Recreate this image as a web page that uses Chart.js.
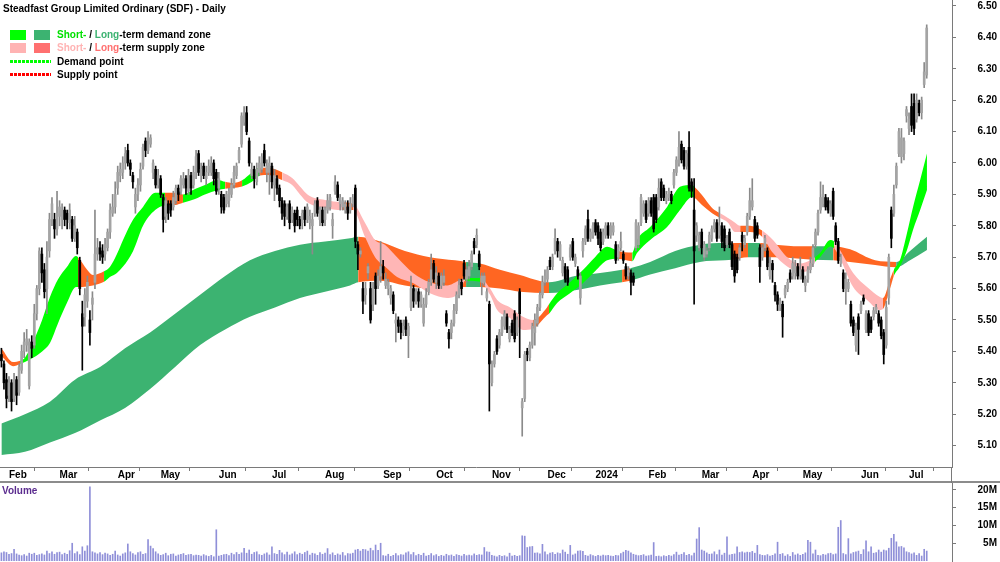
<!DOCTYPE html>
<html><head><meta charset="utf-8">
<script src="https://cdn.jsdelivr.net/npm/chart.js@4.4.0/dist/chart.umd.min.js"></script>
<style>
html,body{margin:0;padding:0;background:#fff;width:1000px;height:562px;overflow:hidden;font-family:"Liberation Sans",Arial,sans-serif}
canvas{position:absolute;left:0}
#cp{top:0}
#cv{top:483px}
.t{position:absolute;font-weight:bold;font-size:10px;line-height:11px;color:#000;white-space:nowrap}
.sw{position:absolute;width:16px;height:10px}
.dl{position:absolute;left:10px;width:41px;height:3px}
</style></head>
<body>
<canvas id="cp" width="1000" height="483"></canvas>
<canvas id="cv" width="1000" height="79"></canvas>
<div class="t" style="left:3px;top:3px">Steadfast Group Limited Ordinary (SDF) - Daily</div>
<div class="sw" style="left:10px;top:30px;background:#00ff00"></div>
<div class="sw" style="left:34px;top:30px;background:#3cb371"></div>
<div class="t" style="left:57px;top:29px"><span style="color:#00e000">Short-</span> / <span style="color:#3cb371">Long</span>-term demand zone</div>
<div class="sw" style="left:10px;top:43px;background:#ffb3b3"></div>
<div class="sw" style="left:34px;top:43px;background:#ff7070"></div>
<div class="t" style="left:57px;top:42px"><span style="color:#ffb3b3">Short-</span> / <span style="color:#ff7070">Long</span>-term supply zone</div>
<div class="dl" style="top:60px;background:repeating-linear-gradient(90deg,#00ff00 0 3px,transparent 3px 4px)"></div>
<div class="t" style="left:57px;top:56px">Demand point</div>
<div class="dl" style="top:73px;background:repeating-linear-gradient(90deg,#ff0000 0 3px,transparent 3px 4px)"></div>
<div class="t" style="left:57px;top:69px">Supply point</div>
<div class="t" style="left:2px;top:485px;color:#5b2c8f">Volume</div>
<script>
// ---- data: daily bars, index 0 = 27 Jan 2023 ----
const opens = [
5.39,5.36,5.31,5.26,5.30,5.25,5.31,5.27,5.34,5.40,
5.42,5.29,5.43,5.42,5.52,5.60,5.71,5.66,5.60,5.72,
5.82,5.82,5.79,5.83,5.82,5.85,5.84,5.81,5.82,5.76,
5.78,5.69,5.52,5.51,5.56,5.50,5.55,5.62,5.71,5.73,
5.72,5.71,5.73,5.78,5.84,5.86,5.92,5.96,5.97,6.00,
6.04,6.00,5.96,5.86,5.90,5.93,5.99,6.07,6.04,6.06,
5.97,5.98,5.93,5.95,5.89,5.83,5.87,5.87,5.86,5.88,
5.92,5.91,5.93,5.95,5.91,5.96,5.93,5.97,6.03,5.96,
5.99,5.95,5.97,5.97,6.00,5.97,5.92,5.90,5.89,5.87,
5.88,5.90,5.93,5.96,6.01,6.06,6.13,6.16,6.07,5.96,
5.98,5.94,5.97,5.98,6.04,5.97,5.97,5.99,5.93,5.95,
5.92,5.88,5.87,5.83,5.87,5.82,5.84,5.85,5.82,5.81,
5.85,5.82,5.81,5.80,5.84,5.88,5.82,5.85,5.82,5.85,
5.86,5.80,5.91,5.93,5.87,5.86,5.85,5.86,5.85,5.87,
5.92,5.74,5.71,5.60,5.58,5.65,5.60,5.55,5.64,5.61,
5.64,5.67,5.61,5.60,5.57,5.58,5.49,5.50,5.49,5.46,
5.50,5.45,5.54,5.60,5.56,5.59,5.55,5.49,5.55,5.59,
5.62,5.68,5.62,5.64,5.61,5.62,5.52,5.46,5.46,5.49,
5.53,5.58,5.62,5.68,5.63,5.64,5.67,5.75,5.74,5.71,
5.62,5.62,5.57,5.55,5.30,5.36,5.44,5.42,5.46,5.48,
5.51,5.44,5.49,5.52,5.46,5.59,5.22,5.25,5.40,5.38,
5.42,5.46,5.49,5.54,5.58,5.62,5.63,5.69,5.67,5.72,
5.75,5.70,5.65,5.67,5.66,5.70,5.75,5.68,5.66,5.57,
5.72,5.75,5.82,5.76,5.77,5.81,5.80,5.78,5.75,5.77,
5.80,5.77,5.78,5.74,5.70,5.73,5.71,5.67,5.64,5.65,
5.64,5.73,5.74,5.81,5.84,5.87,5.84,5.88,5.89,5.89,
5.86,5.94,5.92,5.88,5.89,5.90,5.93,5.97,6.00,6.06,
6.04,5.99,6.05,5.94,5.85,5.77,5.73,5.78,5.70,5.71,
5.73,5.76,5.79,5.81,5.77,5.80,5.79,5.74,5.78,5.74,
5.71,5.70,5.70,5.77,5.74,5.78,5.83,5.86,5.82,5.80,
5.73,5.70,5.73,5.72,5.64,5.68,5.61,5.58,5.54,5.55,
5.58,5.60,5.65,5.64,5.65,5.67,5.64,5.66,5.61,5.63,
5.66,5.68,5.74,5.78,5.85,5.87,5.89,5.88,5.84,5.91,
5.80,5.75,5.68,5.65,5.59,5.60,5.55,5.50,5.42,5.51,
5.53,5.57,5.47,5.52,5.50,5.51,5.53,5.52,5.50,5.46,
5.42,5.57,5.85,5.84,5.93,6.03,6.02,6.03,6.15,6.11,
6.18,6.19,6.14,6.19,6.16,6.25,6.28];
const highs = [
5.41,5.37,5.33,5.32,5.31,5.33,5.32,5.36,5.42,5.46,
5.47,5.44,5.45,5.55,5.61,5.73,5.73,5.68,5.75,5.84,
5.89,5.84,5.91,5.88,5.87,5.86,5.85,5.87,5.83,5.83,
5.79,5.70,5.56,5.60,5.64,5.53,5.59,5.85,5.76,5.75,
5.74,5.76,5.79,5.87,5.90,5.94,5.99,6.00,6.02,6.05,
6.06,6.01,5.97,5.92,5.95,6.00,6.06,6.08,6.10,6.09,
6.01,5.99,5.98,5.96,5.90,5.89,5.88,5.88,5.91,5.93,
5.93,5.96,5.97,5.96,5.98,5.97,5.99,6.04,6.04,6.00,
6.00,5.99,6.01,6.02,6.01,5.98,5.97,5.91,5.90,5.91,
5.92,5.95,5.99,6.00,6.05,6.16,6.18,6.18,6.08,6.00,
5.99,6.00,6.02,6.03,6.06,6.01,6.02,6.00,5.98,5.96,
5.93,5.89,5.88,5.87,5.88,5.86,5.85,5.86,5.83,5.85,
5.86,5.87,5.85,5.84,5.88,5.89,5.86,5.86,5.86,5.90,
5.90,5.84,5.96,5.94,5.90,5.89,5.88,5.88,5.89,5.90,
5.93,5.75,5.73,5.62,5.62,5.68,5.62,5.62,5.65,5.66,
5.75,5.69,5.65,5.63,5.61,5.59,5.52,5.51,5.50,5.50,
5.51,5.49,5.64,5.61,5.60,5.60,5.59,5.57,5.60,5.63,
5.71,5.69,5.67,5.65,5.65,5.66,5.53,5.47,5.50,5.55,
5.59,5.63,5.63,5.69,5.67,5.69,5.72,5.76,5.79,5.72,
5.65,5.65,5.60,5.56,5.37,5.40,5.45,5.47,5.51,5.53,
5.52,5.48,5.50,5.53,5.51,5.60,5.25,5.40,5.41,5.43,
5.49,5.52,5.55,5.59,5.64,5.66,5.67,5.70,5.71,5.79,
5.76,5.75,5.70,5.68,5.67,5.74,5.76,5.71,5.67,5.65,
5.76,5.80,5.85,5.79,5.81,5.82,5.81,5.79,5.79,5.81,
5.81,5.81,5.81,5.75,5.74,5.78,5.72,5.68,5.67,5.66,
5.65,5.82,5.81,5.90,5.88,5.88,5.89,5.89,5.90,5.90,
5.95,5.95,5.93,5.91,5.92,5.91,5.98,6.02,6.10,6.07,
6.05,6.04,6.10,5.95,5.95,5.81,5.78,5.79,5.75,5.73,
5.78,5.80,5.82,5.82,5.86,5.81,5.80,5.77,5.79,5.75,
5.72,5.71,5.74,5.78,5.77,5.84,5.92,5.95,5.83,5.81,
5.74,5.74,5.77,5.73,5.70,5.69,5.62,5.59,5.57,5.56,
5.61,5.63,5.66,5.70,5.69,5.68,5.70,5.67,5.64,5.67,
5.70,5.74,5.79,5.85,5.94,5.93,5.90,5.89,5.88,5.92,
5.81,5.76,5.71,5.66,5.65,5.63,5.56,5.51,5.49,5.52,
5.56,5.58,5.53,5.53,5.51,5.54,5.55,5.53,5.51,5.47,
5.56,5.71,5.86,5.93,6.00,6.11,6.11,6.08,6.18,6.16,
6.22,6.22,6.22,6.20,6.21,6.32,6.44];
const lows = [
5.35,5.28,5.22,5.24,5.21,5.24,5.23,5.26,5.33,5.38,
5.40,5.28,5.38,5.41,5.50,5.58,5.62,5.57,5.52,5.70,
5.80,5.76,5.77,5.80,5.79,5.80,5.79,5.79,5.75,5.75,
5.71,5.58,5.34,5.48,5.54,5.42,5.50,5.60,5.69,5.69,
5.68,5.69,5.72,5.76,5.83,5.84,5.90,5.94,5.95,5.98,
5.99,5.96,5.92,5.84,5.88,5.91,5.98,6.02,6.03,6.05,
5.95,5.92,5.92,5.89,5.78,5.81,5.82,5.83,5.85,5.87,
5.88,5.90,5.92,5.90,5.90,5.90,5.92,5.95,5.96,5.94,
5.95,5.93,5.96,5.96,5.93,5.90,5.90,5.84,5.84,5.86,
5.86,5.89,5.92,5.95,6.00,6.05,6.12,6.09,5.99,5.95,
5.92,5.93,5.96,5.97,5.99,5.94,5.90,5.92,5.88,5.90,
5.86,5.82,5.80,5.82,5.79,5.81,5.78,5.80,5.79,5.79,
5.80,5.81,5.79,5.71,5.83,5.83,5.80,5.80,5.80,5.84,
5.85,5.76,5.90,5.88,5.85,5.85,5.84,5.82,5.84,5.86,
5.73,5.66,5.70,5.52,5.55,5.63,5.49,5.53,5.55,5.60,
5.62,5.63,5.60,5.58,5.55,5.52,5.43,5.46,5.44,5.45,
5.45,5.38,5.53,5.54,5.55,5.54,5.54,5.48,5.54,5.58,
5.61,5.62,5.60,5.60,5.60,5.61,5.48,5.41,5.44,5.48,
5.52,5.57,5.58,5.63,5.62,5.63,5.66,5.71,5.73,5.66,
5.58,5.61,5.56,5.21,5.29,5.35,5.39,5.41,5.45,5.47,
5.46,5.43,5.45,5.43,5.45,5.38,5.13,5.24,5.37,5.37,
5.41,5.42,5.48,5.53,5.57,5.61,5.62,5.66,5.66,5.71,
5.70,5.69,5.64,5.62,5.61,5.69,5.69,5.67,5.63,5.55,
5.70,5.74,5.75,5.75,5.76,5.77,5.74,5.72,5.74,5.76,
5.76,5.76,5.77,5.68,5.69,5.72,5.68,5.63,5.63,5.58,
5.61,5.72,5.73,5.80,5.83,5.81,5.83,5.83,5.78,5.81,
5.85,5.88,5.88,5.87,5.88,5.87,5.92,5.96,5.99,6.00,
5.98,5.98,5.91,5.89,5.55,5.75,5.72,5.71,5.69,5.70,
5.72,5.75,5.78,5.75,5.76,5.73,5.72,5.73,5.73,5.66,
5.62,5.65,5.69,5.72,5.73,5.77,5.82,5.85,5.75,5.76,
5.62,5.69,5.72,5.66,5.63,5.62,5.56,5.53,5.53,5.445,
5.57,5.59,5.62,5.63,5.63,5.63,5.63,5.62,5.59,5.62,
5.65,5.67,5.73,5.77,5.84,5.86,5.85,5.84,5.83,5.82,
5.74,5.68,5.67,5.59,5.55,5.59,5.48,5.45,5.40,5.39,
5.52,5.55,5.46,5.45,5.46,5.50,5.52,5.48,5.44,5.36,
5.41,5.55,5.73,5.83,5.92,6.02,6.00,6.01,6.13,6.09,
6.10,6.09,6.13,6.15,6.14,6.24,6.27];
const closes = [
5.37,5.30,5.25,5.30,5.24,5.31,5.26,5.35,5.40,5.43,
5.44,5.43,5.41,5.52,5.60,5.72,5.65,5.59,5.70,5.82,
5.87,5.79,5.84,5.86,5.85,5.82,5.82,5.85,5.76,5.80,
5.73,5.60,5.48,5.58,5.62,5.46,5.57,5.71,5.73,5.71,
5.70,5.74,5.78,5.85,5.86,5.90,5.97,5.98,6.00,6.03,
6.00,5.98,5.94,5.90,5.93,5.98,6.05,6.04,6.08,6.08,
6.00,5.93,5.96,5.90,5.82,5.88,5.84,5.85,5.89,5.92,
5.90,5.95,5.95,5.92,5.96,5.92,5.97,6.02,5.97,5.98,
5.96,5.97,5.99,6.00,5.95,5.91,5.95,5.86,5.85,5.90,
5.91,5.93,5.97,5.99,6.04,6.15,6.16,6.10,6.00,5.98,
5.95,5.98,6.00,6.02,6.00,5.99,6.00,5.94,5.96,5.92,
5.88,5.84,5.83,5.86,5.81,5.85,5.80,5.82,5.80,5.84,
5.82,5.86,5.83,5.82,5.87,5.84,5.85,5.81,5.85,5.88,
5.89,5.82,5.94,5.89,5.89,5.88,5.87,5.84,5.87,5.89,
5.75,5.71,5.72,5.56,5.60,5.67,5.50,5.60,5.60,5.64,
5.67,5.65,5.63,5.62,5.60,5.53,5.50,5.48,5.46,5.48,
5.47,5.48,5.60,5.56,5.59,5.56,5.58,5.55,5.58,5.62,
5.66,5.63,5.65,5.61,5.64,5.64,5.49,5.44,5.49,5.53,
5.58,5.61,5.60,5.64,5.66,5.67,5.71,5.73,5.77,5.67,
5.64,5.64,5.59,5.36,5.36,5.39,5.40,5.46,5.50,5.52,
5.47,5.47,5.46,5.44,5.50,5.52,5.24,5.39,5.39,5.42,
5.48,5.50,5.54,5.58,5.62,5.64,5.66,5.67,5.70,5.76,
5.72,5.74,5.69,5.63,5.62,5.73,5.70,5.70,5.64,5.64,
5.75,5.79,5.76,5.78,5.80,5.78,5.76,5.73,5.78,5.80,
5.77,5.80,5.80,5.69,5.73,5.75,5.69,5.64,5.66,5.62,
5.62,5.81,5.80,5.89,5.87,5.82,5.88,5.84,5.79,5.82,
5.92,5.89,5.89,5.90,5.91,5.88,5.97,6.01,6.05,6.01,
5.99,6.03,5.92,5.91,5.72,5.80,5.77,5.73,5.74,5.72,
5.77,5.79,5.81,5.76,5.80,5.75,5.73,5.76,5.74,5.67,
5.64,5.66,5.73,5.75,5.76,5.83,5.88,5.88,5.76,5.77,
5.67,5.73,5.76,5.67,5.68,5.66,5.58,5.55,5.56,5.51,
5.60,5.62,5.63,5.68,5.67,5.64,5.66,5.63,5.63,5.66,
5.68,5.73,5.78,5.84,5.89,5.90,5.86,5.85,5.87,5.83,
5.75,5.69,5.70,5.60,5.63,5.62,5.49,5.46,5.48,5.47,
5.55,5.56,5.52,5.46,5.47,5.53,5.54,5.49,5.45,5.39,
5.54,5.70,5.76,5.90,5.99,6.10,6.08,6.07,6.17,6.14,
6.12,6.11,6.20,6.16,6.20,6.29,6.43];
// volume in millions of shares
const volumes = [
2.3,2.6,2.4,1.9,2.1,3.3,2.0,1.7,1.5,1.8,
1.4,2.2,1.9,2.2,1.6,1.8,2.0,1.7,2.8,2.1,
2.6,1.9,2.4,2.5,1.8,2.2,1.9,2.9,5.0,2.1,
2.6,1.8,4.0,2.8,4.3,20.9,2.6,2.3,2.0,2.4,
1.8,2.2,2.0,1.6,1.9,2.8,1.7,1.4,2.0,2.3,
4.8,2.6,2.1,1.7,2.4,2.6,1.9,2.1,6.0,4.2,
3.5,2.6,2.0,1.6,1.8,2.2,1.5,1.9,2.0,1.4,
1.7,1.9,2.1,1.6,1.8,1.9,1.5,1.7,1.6,1.4,
1.8,1.5,1.3,1.6,1.2,8.8,1.4,1.6,1.8,1.9,
1.5,2.2,1.8,2.4,1.9,2.3,3.6,2.2,3.1,1.9,
2.4,2.6,1.8,1.6,2.0,2.3,1.7,4.0,2.1,1.9,
3.0,2.3,1.8,2.5,1.7,2.0,2.6,1.8,2.2,1.9,
2.4,2.8,1.7,2.2,2.0,1.6,2.4,1.9,2.2,3.5,
1.8,2.3,1.6,2.0,1.7,2.4,1.5,2.1,2.0,2.2,
3.1,3.3,2.8,3.3,3.2,2.8,3.6,2.9,4.5,3.0,
5.0,1.5,1.4,1.9,1.3,1.6,2.1,1.5,1.8,1.7,
2.3,2.6,1.8,2.4,1.5,1.9,1.6,2.2,1.4,1.6,
2.1,1.5,1.8,1.3,1.6,1.4,1.9,1.5,1.7,1.3,
1.8,1.6,1.4,1.9,1.5,1.7,1.5,2.0,1.6,1.8,
1.7,3.8,2.6,2.5,1.6,1.4,1.2,1.6,1.3,1.5,
1.2,2.2,1.4,1.6,1.3,1.5,7.1,7.0,3.8,4.0,
4.1,2.2,2.3,2.0,4.7,2.6,1.8,2.2,2.4,1.9,
2.3,2.1,3.1,2.5,1.9,4.4,1.7,2.0,2.8,2.9,
2.7,1.6,1.4,1.8,1.5,1.3,1.6,1.4,1.7,1.5,
1.6,1.4,1.3,1.6,1.5,2.1,2.5,3.0,2.8,2.3,
1.9,1.7,1.5,1.6,1.8,1.4,1.5,1.7,5.2,1.3,
1.4,1.2,1.5,1.3,1.6,1.4,1.8,2.5,1.7,1.9,
2.4,1.6,1.9,1.5,2.2,6.2,9.4,3.1,2.8,2.3,
1.9,2.0,2.6,1.8,3.1,1.7,2.2,6.8,1.7,1.9,
2.0,4.0,2.4,2.6,2.3,2.5,2.4,2.7,2.2,4.4,
1.8,1.6,1.5,1.8,1.4,1.6,2.0,5.3,1.9,2.1,
1.4,1.8,1.3,2.4,1.7,2.0,1.6,1.9,2.3,5.8,
5.3,2.0,3.1,1.6,1.5,1.9,1.7,2.1,2.2,1.8,
2.0,9.5,11.4,2.1,1.8,6.3,2.0,2.4,2.6,2.8,
1.9,3.2,5.7,2.6,4.0,2.2,2.4,3.1,2.5,3.1,
2.9,3.6,6.4,7.5,5.4,4.0,4.1,3.7,2.6,2.4,
2.0,2.3,1.6,2.1,1.4,3.3,2.8];

// long-term zone (bar index, upper edge, lower edge, 1 = demand, -1 = supply)
const longIdx = [0,9.3,19.2,29.1,39.0,48.9,58.8,68.7,78.6,88.5,98.3,108.2,118.1,128.0,137.9,141.1,149.8,159.6,169.5,179.4,183.8,189.3,197.2,205.1,216.6,226.9,236.8,245.5,248.7,256.6,266.5,276.3,286.2,289.0,295.3,300.1,306.0,315.9,321.0,329.0,335.7,345.6,353.9,359.4,366.1];
const longTop = [5.17,5.20,5.24,5.31,5.35,5.41,5.46,5.52,5.58,5.64,5.69,5.72,5.74,5.75,5.76,5.765,5.75,5.72,5.70,5.69,5.685,5.68,5.66,5.643,5.62,5.64,5.65,5.66,5.665,5.685,5.72,5.74,5.745,5.745,5.745,5.745,5.74,5.735,5.735,5.735,5.725,5.69,5.685,5.72,5.765];
const longBot = [5.07,5.08,5.11,5.14,5.18,5.22,5.28,5.35,5.42,5.47,5.51,5.54,5.57,5.59,5.61,5.62,5.625,5.61,5.60,5.605,5.605,5.605,5.60,5.59,5.586,5.595,5.61,5.62,5.625,5.645,5.665,5.685,5.69,5.692,5.70,5.70,5.70,5.695,5.692,5.69,5.685,5.675,5.668,5.69,5.723];
const longState = [1,1,1,1,1,1,1,1,1,1,1,1,1,1,1,-1,-1,-1,-1,-1,1,-1,-1,-1,1,1,1,-1,1,1,1,1,1,-1,1,-1,-1,-1,1,-1,-1,-1,1,1,1];

// short-term zone (1 = demand, -1 = supply, 0 = turning)
const shortIdx = [0,4.6,7.4,9.3,12.5,16.1,19.2,22.4,25.9,29.5,
30.3,33.9,36.2,40.6,42.9,45.7,48.1,52.1,56.0,60.8,
64.7,68.7,71.8,76.6,80.5,85.7,88.5,91.6,95.2,99.1,
102.3,105.5,111.2,115.0,118.1,121.3,128.0,134.7,139.1,143.8,
147.8,151.7,156.5,162.8,169.5,176.3,181.4,183.4,189.5,193.3,
196.1,201.2,206.3,210.3,215.8,216.6,219.8,224.9,230.1,234.8,
239.6,243.9,249.5,251.4,256.6,263.3,268.4,273.2,274.0,277.1,
281.1,284.3,287.4,290.2,292.2,296.1,300.9,305.2,310.8,315.9,
319.9,321.8,323.8,327.8,329.4,331.7,336.9,342.4,347.5,348.7,
351.5,353.0,355.4,358.2,360.6,363.4,366.1];
const shortTop = [5.41,5.366,5.37,5.38,5.43,5.50,5.573,5.63,5.669,5.704,
5.70,5.66,5.643,5.655,5.669,5.71,5.755,5.82,5.86,5.905,
5.905,5.905,5.90,5.917,5.93,5.946,5.94,5.936,5.945,5.97,
5.985,5.985,5.97,5.952,5.925,5.898,5.882,5.875,5.87,5.81,
5.755,5.74,5.70,5.65,5.62,5.61,5.627,5.634,5.634,5.60,
5.564,5.54,5.51,5.50,5.54,5.55,5.585,5.62,5.66,5.70,
5.733,5.72,5.715,5.755,5.796,5.86,5.924,5.93,5.925,5.898,
5.857,5.84,5.825,5.81,5.80,5.80,5.785,5.755,5.70,5.68,
5.69,5.70,5.713,5.755,5.75,5.723,5.65,5.605,5.573,5.57,
5.63,5.66,5.69,5.777,5.86,5.946,6.03];
const shortBot = [5.385,5.353,5.36,5.366,5.38,5.40,5.427,5.49,5.554,5.605,
5.605,5.607,5.61,5.622,5.637,5.65,5.67,5.72,5.80,5.85,
5.865,5.866,5.873,5.885,5.90,5.914,5.918,5.92,5.925,5.94,
5.96,5.962,5.945,5.93,5.90,5.873,5.857,5.85,5.85,5.765,
5.70,5.67,5.637,5.618,5.585,5.57,5.59,5.625,5.622,5.58,
5.532,5.506,5.468,5.472,5.515,5.52,5.554,5.585,5.618,5.655,
5.69,5.695,5.687,5.713,5.755,5.796,5.85,5.892,5.89,5.866,
5.84,5.825,5.81,5.78,5.78,5.78,5.765,5.713,5.67,5.653,
5.66,5.685,5.70,5.733,5.728,5.697,5.605,5.564,5.532,5.535,
5.60,5.64,5.67,5.723,5.787,5.85,5.914];
const shortState = [0,0,1,1,1,1,1,1,1,1,
0,0,0,1,1,1,1,1,1,1,
0,0,1,1,1,1,0,0,1,1,
0,0,-1,-1,-1,-1,-1,0,-1,-1,
-1,-1,-1,-1,-1,-1,-1,1,-1,-1,
-1,-1,-1,0,0,1,1,1,1,1,
1,0,1,1,1,1,1,1,0,0,
0,-1,-1,-1,0,0,-1,-1,-1,-1,
-1,1,1,1,-1,-1,-1,-1,-1,0,
0,1,1,1,1,1,1];

const monthIdx = [3,23,46,63,86,107,128,151,172,194,216,235,256,277,297,317,340,359];
const monthLabels = ['Feb','Mar','Apr','May','Jun','Jul','Aug','Sep','Oct','Nov','Dec','2024','Feb','Mar','Apr','May','Jun','Jul'];
const priceTicks = [5.1,5.2,5.3,5.4,5.5,5.6,5.7,5.8,5.9,6.0,6.1,6.2,6.3,6.4,6.5];
const volTicks = [5,10,15,20];

// ---- styling ----
const C = {lime:'#00ff00', pink:'#ffb6b6', orange:'#ff6622', sea:'#3cb371',
  up:'#a4a4a4', upWick:'#8a8a8a', down:'#000000', axis:'#7a7a7a', vol:'#8f8fd8'};
const X_MIN = -0.56, X_MAX = 376.0;
Chart.defaults.font = {family:'"Liberation Sans", Arial, sans-serif', size:10, weight:'bold'};
Chart.defaults.color = '#000';

const idx = opens.map((_, i) => i);
const isUp = i => closes[i] >= opens[i];
const pts = (xs, ys) => xs.map((x, k) => ({x, y: ys[k]}));
const shortColor = s => s > 0 ? C.lime : (s < 0 ? C.pink : C.orange);
const longColor = s => s > 0 ? C.sea : C.orange;
const zeroPad = s => { s.paddingTop = 0; s.paddingBottom = 0; s.paddingLeft = 0; s.paddingRight = 0; };
const bandLine = {type:'line', borderColor:'rgba(0,0,0,0)', borderWidth:1, pointRadius:0, cubicInterpolationMode:'monotone'};

const framePlugin = {id:'frame', afterDraw(chart){
  const {ctx, chartArea} = chart;
  ctx.save();
  ctx.fillStyle = '#8c8c8c';
  ctx.fillRect(0, chart.height - 2, chart.width, 2);
  ctx.fillStyle = C.axis;
  ctx.fillRect(Math.round(chartArea.right) - 1, chartArea.bottom, 1, chart.height - chartArea.bottom);
  ctx.restore();
}};

new Chart(document.getElementById('cp'), {
  type: 'bar',
  data: {datasets: [
    Object.assign({}, bandLine, {data: pts(longIdx, longBot), fill:false, order:6}),
    Object.assign({}, bandLine, {data: pts(longIdx, longTop), fill:'-1', backgroundColor:C.sea,
      segment:{backgroundColor: c => longColor(longState[c.p0DataIndex])}, order:5}),
    Object.assign({}, bandLine, {data: pts(shortIdx, shortBot), fill:false, order:4}),
    Object.assign({}, bandLine, {data: pts(shortIdx, shortTop), fill:'-1', backgroundColor:C.lime,
      segment:{backgroundColor: c => shortColor(shortState[c.p0DataIndex])}, order:3}),
    {data: idx.map(i => ({x:i, y:[lows[i], highs[i]]})), barThickness:1, grouped:false, order:2,
      backgroundColor: c => isUp(c.dataIndex) ? C.upWick : C.down},
    {data: idx.map(i => ({x:i, y:[opens[i], closes[i]]})), barThickness:2, minBarLength:1, grouped:false, order:1,
      backgroundColor: c => isUp(c.dataIndex) ? C.up : C.down}
  ]},
  options: {
    responsive:false, animation:false, events:[],
    layout:{padding:{left:0, top:0, bottom:0, right:3}},
    plugins:{legend:{display:false}, tooltip:{enabled:false}},
    scales: {
      x: {type:'linear', min:X_MIN, max:X_MAX, offset:false,
        afterBuildTicks: s => { s.ticks = monthIdx.map(v => ({value:v})); },
        afterFit: s => { s.height = 16; zeroPad(s); },
        ticks:{autoSkip:false, maxRotation:0, minRotation:0, align:'start', padding:-2,
          callback:(v, i) => monthLabels[i]},
        grid:{drawOnChartArea:false, drawTicks:true, tickLength:4, color:C.axis},
        border:{display:true, color:C.axis}},
      y: {type:'linear', position:'right', min:5.0318, max:6.5191,
        afterBuildTicks: s => { s.ticks = priceTicks.map(v => ({value:v})); },
        afterFit: s => { s.width = 45; zeroPad(s); },
        ticks:{crossAlign:'far', padding:2, callback: v => Number(v).toFixed(2)},
        grid:{drawOnChartArea:false, drawTicks:true, tickLength:4, color:C.axis},
        border:{display:true, color:C.axis}}
    }
  },
  plugins:[framePlugin]
});

new Chart(document.getElementById('cv'), {
  type: 'bar',
  data: {datasets: [
    {data: idx.map(i => ({x:i, y:volumes[i]})), barThickness:1, backgroundColor:C.vol}
  ]},
  options: {
    responsive:false, animation:false, events:[],
    layout:{padding:{left:0, top:0, bottom:1, right:3}},
    plugins:{legend:{display:false}, tooltip:{enabled:false}},
    scales: {
      x: {type:'linear', min:X_MIN, max:X_MAX, offset:false, display:false},
      y: {type:'linear', position:'right', min:0, max:21.97,
        afterBuildTicks: s => { s.ticks = volTicks.map(v => ({value:v})); },
        afterFit: s => { s.width = 45; zeroPad(s); },
        ticks:{crossAlign:'far', padding:2, callback: v => v + 'M'},
        grid:{drawOnChartArea:false, drawTicks:true, tickLength:4, color:C.axis},
        border:{display:true, color:C.axis}}
    }
  }
});
</script>
</body></html>
